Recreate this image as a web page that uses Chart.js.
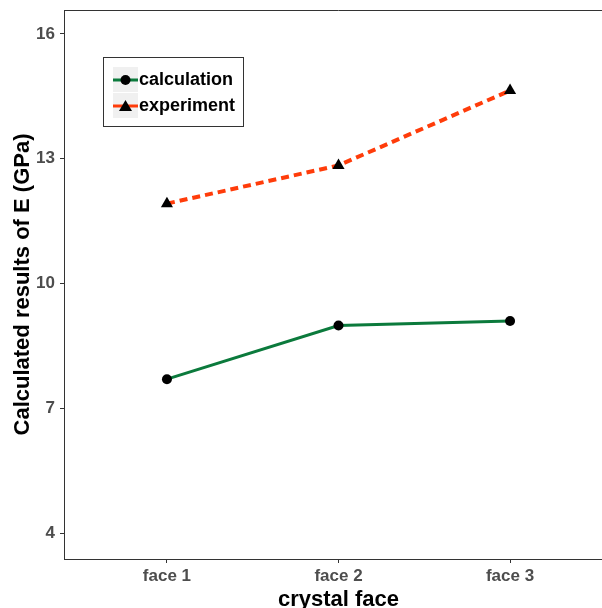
<!DOCTYPE html>
<html>
<head>
<meta charset="utf-8">
<script src="https://cdn.jsdelivr.net/npm/chart.js@4"></script>
<style>
  html, body { margin: 0; padding: 0; background: #fff; overflow: hidden; }
  #wrap { width: 620px; height: 608px; }
</style>
</head>
<body>
<div id="wrap"><canvas id="myChart" width="620" height="608"></canvas></div>
<script>
const faces = ["face 1", "face 2", "face 3"];
const calculation = [7.70, 8.99, 9.10];
const experiment = [11.92, 12.84, 14.64];
const yTicks = [4, 7, 10, 13, 16];

// draws top border and the legend box inside the plot
const extras = {
    id: "extras",
    afterDraw(chart) {
        const ctx = chart.ctx;
        const a = chart.chartArea;
        ctx.save();
        ctx.strokeStyle = "#333";
        ctx.lineWidth = 1;
        ctx.beginPath();
        ctx.moveTo(a.left, a.top + 0.5);
        ctx.lineTo(a.right, a.top + 0.5);
        ctx.stroke();

        // legend
        const lx = 103, ly = 57, lw = 140, lh = 69;
        ctx.fillStyle = "#fff";
        ctx.fillRect(lx, ly, lw, lh);
        ctx.strokeRect(lx + 0.5, ly + 0.5, lw, lh);
        chart.data.datasets.forEach((ds, i) => {
            const ky = 67 + i * 26;
            ctx.fillStyle = "#f0f0f0";
            ctx.fillRect(113, ky, 25, 25);
            const cy = ky + 13;
            ctx.strokeStyle = ds.borderColor;
            ctx.lineWidth = 3;
            ctx.setLineDash([]);
            ctx.beginPath();
            ctx.moveTo(113, cy);
            ctx.lineTo(138, cy);
            ctx.stroke();
            ctx.fillStyle = "#000";
            ctx.beginPath();
            if (ds.pointStyle === "triangle") {
                ctx.moveTo(125.5, cy - 6);
                ctx.lineTo(132, cy + 5);
                ctx.lineTo(119, cy + 5);
                ctx.closePath();
            } else {
                ctx.arc(125.5, cy, 5, 0, Math.PI * 2);
            }
            ctx.fill();
            ctx.font = "bold 18px Arial, 'Liberation Sans'";
            ctx.textBaseline = "middle";
            ctx.textAlign = "left";
            ctx.fillText(ds.label, 139, cy);
        });
        ctx.restore();
    }
};

new Chart("myChart", {
    type: "line",
    data: {
        datasets: [{
            label: "calculation",
            data: calculation.map((v, i) => ({ x: i + 1, y: v })),
            borderColor: "#0b7a3c",
            borderWidth: 3,
            pointStyle: "circle",
            pointRadius: 5,
            pointBackgroundColor: "#000",
            pointBorderColor: "#000",
            pointBorderWidth: 0,
            tension: 0
        }, {
            label: "experiment",
            data: experiment.map((v, i) => ({ x: i + 1, y: v })),
            borderColor: "#ff3c0a",
            borderWidth: 4,
            borderDash: [8, 5],
            pointStyle: "triangle",
            pointRadius: 7,
            pointBackgroundColor: "#000",
            pointBorderColor: "#000",
            pointBorderWidth: 0,
            tension: 0
        }]
    },
    options: {
        responsive: false,
        animation: false,
        layout: { padding: { left: 0, top: 10, right: 0, bottom: 0 } },
        plugins: {
            legend: { display: false },
            tooltip: { enabled: false }
        },
        scales: {
            x: {
                type: "linear",
                min: 0.4,
                max: 3.6,
                afterBuildTicks: (axis) => { axis.ticks = faces.map((f, i) => ({ value: i + 1 })); },
                afterFit: (axis) => {
                    axis.height = 49;
                    axis.paddingLeft = 0;
                    axis.paddingRight = 0;
                },
                ticks: {
                    callback: (v) => faces[v - 1],
                    color: "#4d4d4d",
                    font: { family: "Arial", size: 17, weight: "bold" },
                    padding: 3,
                    maxRotation: 0
                },
                grid: { drawOnChartArea: false, drawTicks: true, tickLength: 4, color: "#333" },
                border: { color: "#333", width: 1 },
                title: {
                    display: true,
                    text: "crystal face",
                    color: "#000",
                    font: { family: "Arial", size: 22, weight: "bold" },
                    padding: { top: 0, bottom: -5 }
                }
            },
            y: {
                min: 3.376,
                max: 16.576,
                afterBuildTicks: (axis) => { axis.ticks = yTicks.map(v => ({ value: v })); },
                afterFit: (axis) => {
                    axis.width = 64;
                    axis.paddingTop = 0;
                    axis.paddingBottom = 0;
                },
                ticks: {
                    color: "#4d4d4d",
                    font: { family: "Arial", size: 17, weight: "bold" },
                    padding: 5
                },
                grid: { drawOnChartArea: false, drawTicks: true, tickLength: 4, color: "#333" },
                border: { color: "#333", width: 1 },
                title: {
                    display: true,
                    text: "Calculated results of E (GPa)",
                    color: "#000",
                    font: { family: "Arial", size: 22, weight: "bold" },
                    padding: { top: 10, bottom: 0 }
                }
            }
        }
    },
    plugins: [extras]
});
</script>
</body>
</html>
